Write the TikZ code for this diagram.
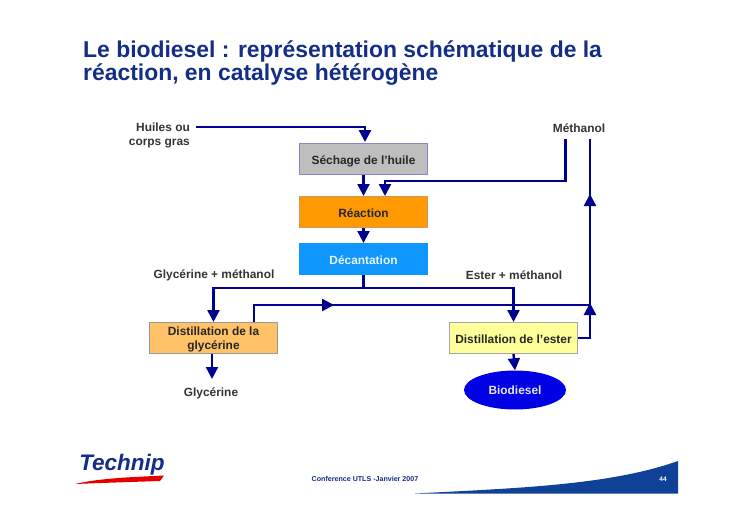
\documentclass[tikz,border=0pt]{standalone}
\usepackage{fontspec}
\setmainfont{Liberation Sans}
\usepackage{xcolor}
\usepackage{tikz}
\usetikzlibrary{arrows.meta,shapes.geometric}
\definecolor{flowblue}{RGB}{0,0,145}
\definecolor{titleblue}{RGB}{20,45,135}
\definecolor{wedgeblue}{RGB}{15,65,150}
\definecolor{sechgray}{RGB}{190,190,190}
\definecolor{reacorange}{RGB}{255,153,0}
\definecolor{decblue}{RGB}{15,150,255}
\definecolor{glyorange}{RGB}{255,194,102}
\definecolor{estyellow}{RGB}{255,255,153}
\tikzset{
	stepbox/.style={draw=#1, line width=1pt, minimum width=128pt, minimum height=31pt, inner sep=0pt, align=center, text depth=0pt, font=\fontsize{11.9}{14.5}\selectfont\bfseries, text=black!85},
	oneline/.style={text height=10.5pt},
	lbl/.style={inner sep=0pt, align=center, font=\fontsize{11.9}{14.5}\selectfont\bfseries, text=black!80},
	flow/.style={draw=flowblue, line width=2.4pt, -{Triangle[length=12pt,width=12pt,fill=flowblue]}},
	pipe/.style={draw=flowblue, line width=2.4pt}
}
\begin{document}
\begin{tikzpicture}[x=1pt,y=-1pt]
				\useasboundingbox (0,0) rectangle (732,517);
				
				\node[anchor=base west, inner sep=0pt, text=titleblue, font=\fontsize{22.9}{23}\selectfont\bfseries] (title1) at (83,57) {Le biodiesel : représentation schématique de la};
				\node[anchor=base west, inner sep=0pt, text=titleblue, font=\fontsize{22.9}{23}\selectfont\bfseries] (title2) at (83,80) {réaction, en catalyse hétérogène};
				
				\node[stepbox=blue!35!gray!70, oneline, fill=sechgray] (sechage) at (363.5,159) {Séchage de l’huile};
				\node[stepbox=brown!80, oneline, fill=reacorange] (reaction) at (363.5,212) {Réaction};
				\node[stepbox=decblue, oneline, fill=decblue, text=white!90!cyan] (decant) at (363.5,259) {Décantation};
				\node[stepbox=black!40, fill=glyorange] (distgly) at (213.5,338) {Distillation de la\\glycérine};
				\node[stepbox=black!35, oneline, fill=estyellow] (distest) at (513.5,338) {Distillation de l’ester};
				\node[ellipse, fill=blue!90!black, minimum width=102pt, minimum height=39pt, inner sep=0pt, text=white!90!blue, font=\fontsize{11.9}{14.5}\selectfont\bfseries] (bio) at (515,390) {Biodiesel};
				
				\node[lbl, align=right, anchor=east] (huiles) at (190,135.5) {Huiles ou\\corps gras};
				\node[lbl] (methanol) at (579,128.5) {Méthanol};
				\node[lbl] (glymeth) at (214,275.5) {Glycérine + méthanol};
				\node[lbl] (estmeth) at (514,275.5) {Ester + méthanol};
				\node[lbl] (glycerine) at (211,393) {Glycérine};
				
				\coordinate (huile0) at (196,127);
				\coordinate (huile1) at (365,142);
				\coordinate (meth0) at (565.5,139);
				\coordinate (meth1) at (385,196);
				\coordinate (rec0) at (590,139);
				\coordinate (rec1) at (590,194);
				\coordinate (rec2) at (590,305);
				\coordinate (out0) at (254,322);
				\coordinate (out1) at (334,305);
				\coordinate (split) at (363.5,288);
				\coordinate (gtip) at (212,379);
				
				\draw[flow] (huile0) -| (huile1);
				\draw[flow] (sechage.south) -- (reaction.north);
				\draw[flow] (meth0) |- (445,181) -| (meth1);
				\draw[flow] (reaction.south) -- (decant.north);
				\draw[pipe] (decant.south) -- (split);
				\draw[flow] (split) -| (distgly.north);
				\draw[flow] (split) -| (distest.north);
				\draw[pipe] (out0) |- (rec2);
				\draw[flow] (out0) |- (out1);
				\draw[flow] (distest.east) -| ([yshift=2pt]rec2);
				\draw[pipe] (rec2) -- (rec0);
				\draw[flow] (rec2) -- (rec1);
				\draw[flow] (distgly.south -| gtip) -- (gtip);
				\draw[flow] (distest.south) -- (bio.north);
				
				\node[inner sep=0pt, text=titleblue, font=\fontsize{22.5}{23}\selectfont\bfseries\itshape] (logo) at (122,465) {Technip};
				\fill[red!90!black] (75,484) .. controls (100,478) and (135,477) .. (164,475.5) -- (160,481) .. controls (130,482) and (100,483) .. cycle;
				\fill[wedgeblue] (415,493.5) .. controls (520,488) and (610,485) .. (678,461) -- (678,493.5) -- cycle;
				\node[inner sep=0pt, text=titleblue, font=\fontsize{7.1}{8}\selectfont\bfseries] (conf) at (365,479) {Conference UTLS -Janvier 2007};
				\node[inner sep=0pt, text=white, font=\fontsize{6.5}{8}\selectfont\bfseries] (page) at (663,479) {44};
			\end{tikzpicture}
\end{document}
